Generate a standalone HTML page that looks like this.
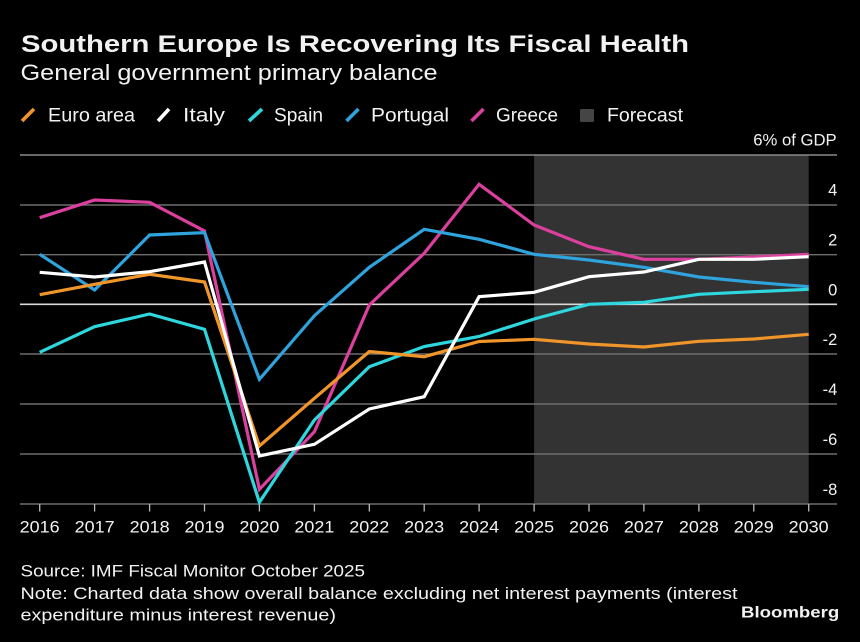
<!DOCTYPE html>
<html>
<head>
<meta charset="utf-8">
<style>
  html, body { margin:0; padding:0; background:#000; }
  svg { display:block; }
  text { font-family: "Liberation Sans", "DejaVu Sans", sans-serif; fill:#f2f2f2; }
</style>
</head>
<body>
<svg width="860" height="642" viewBox="0 0 860 642" xmlns="http://www.w3.org/2000/svg">
  <rect x="0" y="0" width="860" height="642" fill="#000"/>

  <!-- Title / subtitle -->
  <text x="21" y="52" font-size="24" font-weight="bold" fill="#ffffff" textLength="668" lengthAdjust="spacingAndGlyphs">Southern Europe Is Recovering Its Fiscal Health</text>
  <text x="20.5" y="80" font-size="22.5" fill="#f0f0f0" textLength="417" lengthAdjust="spacingAndGlyphs">General government primary balance</text>

  <!-- Legend -->
  <g stroke-width="3.6" stroke-linecap="butt">
    <line x1="22" y1="121" x2="34" y2="109" stroke="#f0952a"/>
    <line x1="158" y1="121" x2="169" y2="109" stroke="#ffffff"/>
    <line x1="249" y1="121" x2="262" y2="109" stroke="#2ed6de"/>
    <line x1="346.5" y1="121" x2="358.5" y2="109" stroke="#2ea3dc"/>
    <line x1="471.5" y1="121" x2="483.5" y2="109" stroke="#dc409e"/>
  </g>
  <rect x="580" y="109" width="14" height="13" rx="1.5" fill="#454545"/>
  <g font-size="19" fill="#eeeeee">
    <text x="48" y="121.7" textLength="87" lengthAdjust="spacingAndGlyphs">Euro area</text>
    <text x="183" y="121.7" textLength="42" lengthAdjust="spacingAndGlyphs">Italy</text>
    <text x="274" y="121.7" textLength="49" lengthAdjust="spacingAndGlyphs">Spain</text>
    <text x="371" y="121.7" textLength="78" lengthAdjust="spacingAndGlyphs">Portugal</text>
    <text x="496" y="121.7" textLength="62" lengthAdjust="spacingAndGlyphs">Greece</text>
    <text x="607" y="121.7" textLength="76" lengthAdjust="spacingAndGlyphs">Forecast</text>
  </g>

  <!-- Unit label -->
  <text x="836.7" y="145.7" font-size="17" text-anchor="end" textLength="83.5" lengthAdjust="spacingAndGlyphs">6% of GDP</text>

  <!-- Forecast region -->
  <rect x="534.1" y="155" width="274.6" height="349" fill="#333333"/>

  <!-- Gridlines -->
  <g stroke="#6e6e6e" stroke-width="1.4">
    <line x1="20" y1="155" x2="837" y2="155" stroke="#8a8a8a"/>
    <line x1="20" y1="205" x2="837" y2="205"/>
    <line x1="20" y1="254.7" x2="837" y2="254.7"/>
    <line x1="20" y1="354" x2="837" y2="354"/>
    <line x1="20" y1="404" x2="837" y2="404"/>
    <line x1="20" y1="454" x2="837" y2="454"/>
    <line x1="20" y1="504" x2="837" y2="504"/>
  </g>
  <line x1="20" y1="304.3" x2="837" y2="304.3" stroke="#d8d8d8" stroke-width="1.6"/>

  <!-- Y tick labels -->
  <g font-size="16.5" text-anchor="end" fill="#eeeeee">
    <text x="837.3" y="195.5">4</text>
    <text x="837.3" y="245.5">2</text>
    <text x="837.3" y="295.5">0</text>
    <text x="837.3" y="345">-2</text>
    <text x="837.3" y="395">-4</text>
    <text x="837.3" y="445">-6</text>
    <text x="837.3" y="495">-8</text>
  </g>

  <!-- X ticks -->
  <g stroke="#bbbbbb" stroke-width="1.3">
    <line x1="39.7" y1="504" x2="39.7" y2="511.5"/>
    <line x1="94.6" y1="504" x2="94.6" y2="511.5"/>
    <line x1="149.6" y1="504" x2="149.6" y2="511.5"/>
    <line x1="204.5" y1="504" x2="204.5" y2="511.5"/>
    <line x1="259.4" y1="504" x2="259.4" y2="511.5"/>
    <line x1="314.4" y1="504" x2="314.4" y2="511.5"/>
    <line x1="369.3" y1="504" x2="369.3" y2="511.5"/>
    <line x1="424.2" y1="504" x2="424.2" y2="511.5"/>
    <line x1="479.1" y1="504" x2="479.1" y2="511.5"/>
    <line x1="534.1" y1="504" x2="534.1" y2="511.5"/>
    <line x1="589.0" y1="504" x2="589.0" y2="511.5"/>
    <line x1="643.9" y1="504" x2="643.9" y2="511.5"/>
    <line x1="698.9" y1="504" x2="698.9" y2="511.5"/>
    <line x1="753.8" y1="504" x2="753.8" y2="511.5"/>
    <line x1="808.7" y1="504" x2="808.7" y2="511.5"/>
  </g>
  <g font-size="16.5" text-anchor="middle" fill="#eeeeee">
    <text x="39.7" y="532.3" textLength="40" lengthAdjust="spacingAndGlyphs">2016</text>
    <text x="94.6" y="532.3" textLength="40" lengthAdjust="spacingAndGlyphs">2017</text>
    <text x="149.6" y="532.3" textLength="40" lengthAdjust="spacingAndGlyphs">2018</text>
    <text x="204.5" y="532.3" textLength="40" lengthAdjust="spacingAndGlyphs">2019</text>
    <text x="259.4" y="532.3" textLength="40" lengthAdjust="spacingAndGlyphs">2020</text>
    <text x="314.4" y="532.3" textLength="40" lengthAdjust="spacingAndGlyphs">2021</text>
    <text x="369.3" y="532.3" textLength="40" lengthAdjust="spacingAndGlyphs">2022</text>
    <text x="424.2" y="532.3" textLength="40" lengthAdjust="spacingAndGlyphs">2023</text>
    <text x="479.1" y="532.3" textLength="40" lengthAdjust="spacingAndGlyphs">2024</text>
    <text x="534.1" y="532.3" textLength="40" lengthAdjust="spacingAndGlyphs">2025</text>
    <text x="589.0" y="532.3" textLength="40" lengthAdjust="spacingAndGlyphs">2026</text>
    <text x="643.9" y="532.3" textLength="40" lengthAdjust="spacingAndGlyphs">2027</text>
    <text x="698.9" y="532.3" textLength="40" lengthAdjust="spacingAndGlyphs">2028</text>
    <text x="753.8" y="532.3" textLength="40" lengthAdjust="spacingAndGlyphs">2029</text>
    <text x="808.7" y="532.3" textLength="40" lengthAdjust="spacingAndGlyphs">2030</text>
  </g>

  <!-- Series -->
  <g fill="none" stroke-width="3.2" stroke-linejoin="miter" stroke-linecap="butt">
    <!-- Greece -->
    <polyline stroke="#dc409e" points="39.7,217.7 94.6,200 149.6,202.3 204.5,231 259.4,489.3 314.4,431.7 369.3,305 424.2,253.3 479.1,184.3 534.1,225 589.0,246.7 643.9,259.3 698.9,259.3 753.8,257 808.7,254.3"/>
    <!-- Portugal -->
    <polyline stroke="#2ea3dc" points="39.7,254.3 94.6,290 149.6,235 204.5,232.7 259.4,379.3 314.4,315.7 369.3,267.3 424.2,229.3 479.1,239.3 534.1,254.3 589.0,260 643.9,267.3 698.9,277 753.8,282.3 808.7,286.7"/>
    <!-- Spain -->
    <polyline stroke="#2ed6de" points="39.7,352.3 94.6,326.7 149.6,314 204.5,329.3 259.4,502.3 314.4,420 369.3,366.7 424.2,346.5 479.1,336.5 534.1,319 589.0,304.3 643.9,302.3 698.9,294.3 753.8,291.7 808.7,289.3"/>
    <!-- Euro area -->
    <polyline stroke="#f0952a" points="39.7,294.7 94.6,284.3 149.6,274.3 204.5,282 259.4,446 314.4,398.3 369.3,351.5 424.2,356.7 479.1,341.5 534.1,339.3 589.0,344 643.9,347 698.9,341.3 753.8,339 808.7,334.3"/>
    <!-- Italy -->
    <polyline stroke="#ffffff" points="39.7,272.3 94.6,277 149.6,271.7 204.5,262 259.4,456 314.4,444.3 369.3,409 424.2,396.7 479.1,296.7 534.1,292.3 589.0,276.7 643.9,272 698.9,259.3 753.8,259.3 808.7,256.7"/>
  </g>

  <!-- Footer -->
  <g font-size="17" fill="#eeeeee">
    <text x="20.5" y="576.7" textLength="344.5" lengthAdjust="spacingAndGlyphs">Source: IMF Fiscal Monitor October 2025</text>
    <text x="20.5" y="599" textLength="717" lengthAdjust="spacingAndGlyphs">Note: Charted data show overall balance excluding net interest payments (interest</text>
    <text x="20.5" y="620.5" textLength="315.5" lengthAdjust="spacingAndGlyphs">expenditure minus interest revenue)</text>
  </g>
  <text x="741" y="617.3" font-size="16" font-weight="bold" fill="#ffffff" textLength="98.3" lengthAdjust="spacingAndGlyphs">Bloomberg</text>
</svg>
</body>
</html>
